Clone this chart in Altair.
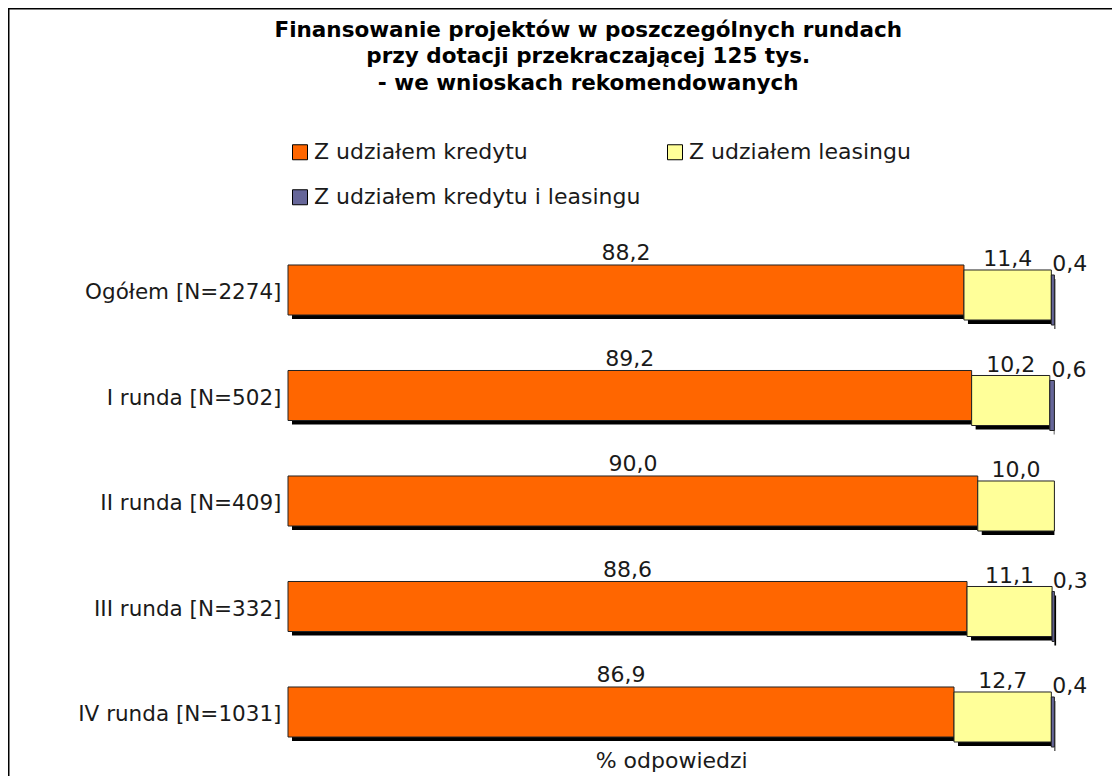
import altair as alt
import pandas as pd

categories = ["Ogółem [N=2274]", "I runda [N=502]", "II runda [N=409]",
              "III runda [N=332]", "IV runda [N=1031]"]
series = ["Z udziałem kredytu", "Z udziałem leasingu", "Z udziałem kredytu i leasingu"]
kredyt = [88.2, 89.2, 90.0, 88.6, 86.9]
leasing = [11.4, 10.2, 10.0, 11.1, 12.7]
oba = [0.4, 0.6, 0.0, 0.3, 0.4]
colors = ["#FF6600", "#FFFF99", "#666699"]

rows = []
for i, c in enumerate(categories):
    for j, vals in enumerate([kredyt, leasing, oba]):
        rows.append({"cat": c, "series": series[j], "order": j, "value": vals[i]})
df = pd.DataFrame(rows)

FONT = "DejaVu Sans"
W = 766.4
STEP = 105.5
H = STEP * 5
PAD_L = 280
PAD_T = 229.25
TOTAL_W = 1104
TOTAL_H = 768

base = alt.Chart(df).transform_stack(
    stack="value", groupby=["cat"], as_=["x0", "x1"], sort=[alt.SortField("order")]
).transform_calculate(
    mid="(datum.x0 + datum.x1) / 2",
    label="replace(format(datum.value, '.1f'), '.', ',')",
)

xenc = alt.X(
    "x0:Q",
    scale=alt.Scale(domain=[0, 100], nice=False, zero=True),
    axis=alt.Axis(title="% odpowiedzi", labels=False, ticks=False, domain=False, grid=False,
                  titleFontSize=22, titleFont=FONT, titleFontWeight="normal",
                  titleColor="#1a1a1a", titleY=-4, titleBaseline="middle"),
)
yenc = alt.Y(
    "cat:N", sort=categories,
    scale=alt.Scale(paddingInner=0.526, paddingOuter=0.263),
    axis=alt.Axis(title=None, ticks=False, domain=False, grid=False, labelFontSize=21.5,
                  labelFont=FONT, labelColor="#1a1a1a", labelPadding=7, labelOffset=3,
                  labelLimit=600),
)
color = alt.Color(
    "series:N",
    sort=series,
    scale=alt.Scale(domain=series, range=colors),
    legend=alt.Legend(title=None, orient="none", direction="horizontal", legendX=1,
                      legendY=-96, columns=2, columnPadding=23, rowPadding=23,
                      symbolType="square", symbolSize=225, symbolStrokeColor="black",
                      symbolStrokeWidth=1, labelFontSize=22, labelFont=FONT,
                      labelColor="#1a1a1a", labelOffset=3, padding=0, labelLimit=600),
)

label_dy = [-30, -24, -19]
label_dx = [0, 0, 17]
layers = []
for j in range(3):
    sub = base.transform_filter(f"datum.order == {j} && datum.value > 0")
    shadow = sub.mark_bar(color="black", xOffset=4, yOffset=5 * j + 4).encode(
        x=xenc, x2="x1:Q", y=yenc)
    if j == 0:
        bar = sub.mark_bar(stroke="#222", strokeWidth=1, yOffset=5 * j).encode(
            x=xenc, x2="x1:Q", y=yenc, color=color)
    else:
        bar = sub.mark_bar(stroke="#222", strokeWidth=1, yOffset=5 * j,
                           color=colors[j]).encode(x=xenc, x2="x1:Q", y=yenc)
    text = sub.mark_text(baseline="alphabetic", fontSize=22, font=FONT, color="#1a1a1a",
                         yOffset=label_dy[j], dx=label_dx[j]).encode(
        x="mid:Q", y=yenc, text="label:N")
    layers += [shadow, bar, text]

frame = alt.Chart(alt.Data(values=[{}]))
top_border = frame.mark_rule(color="#000", strokeWidth=1.5).encode(
    x=alt.value(-PAD_L), x2=alt.value(TOTAL_W - PAD_L), y=alt.value(-PAD_T + 0.75))
left_border = frame.mark_rule(color="#000", strokeWidth=1.5).encode(
    x=alt.value(-PAD_L + 0.75), y=alt.value(-PAD_T), y2=alt.value(TOTAL_H - PAD_T))

chart = alt.layer(top_border, left_border, *layers).properties(
    width=W, height=H,
    padding={"left": PAD_L, "top": PAD_T, "right": TOTAL_W - PAD_L - W,
             "bottom": TOTAL_H - PAD_T - H},
    autosize=alt.AutoSizeParams(type="none"),
    title=alt.Title(
        text=["Finansowanie projektów w poszczególnych rundach",
              "przy dotacji przekraczającej 125 tys.",
              "- we wnioskach rekomendowanych"],
        font=FONT, fontSize=21.5, fontWeight="bold", color="black", lineHeight=26.5,
        anchor="middle", dx=-83, offset=0, dy=87),
).configure_view(stroke=None)

chart.save("out.html", embed_options={"renderer": "svg", "actions": False})
